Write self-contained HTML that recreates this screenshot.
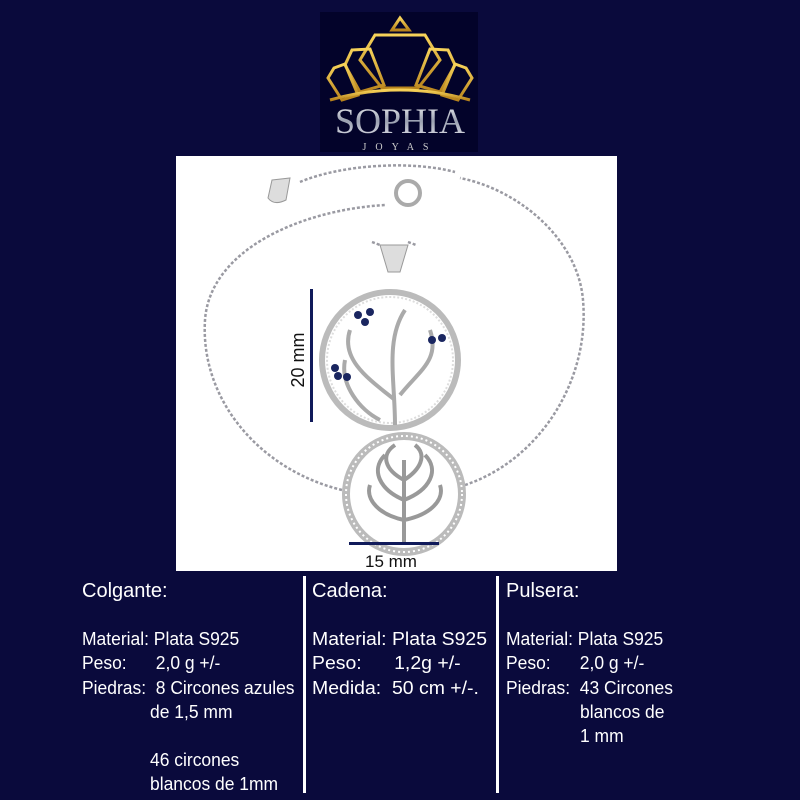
<!DOCTYPE html>
<html><head><meta charset="utf-8"><style>
body{margin:0;width:800px;height:800px;background:#0a0a3c;position:relative;overflow:hidden;font-family:"Liberation Sans",sans-serif;color:#fff}
.t{position:absolute;font-size:18px;white-space:nowrap;transform-origin:0 0;transform:scaleX(0.97)}
.h{font-size:20px;transform:scaleX(1.0)}
.c{transform:scaleX(1.08)}
.v{position:absolute;width:3px;background:#fff;top:576px;height:217px}
</style></head><body>
<svg width="800" height="800" style="position:absolute;left:0;top:0">
<defs><linearGradient id="g" x1="0" y1="0" x2="0" y2="1"><stop offset="0" stop-color="#f7d35a"/><stop offset="1" stop-color="#b8831c"/></linearGradient>
<linearGradient id="s" x1="0" y1="0" x2="0" y2="1"><stop offset="0" stop-color="#ffffff"/><stop offset="0.5" stop-color="#9aa0b0"/><stop offset="1" stop-color="#e8e8f0"/></linearGradient></defs>
<rect x="320" y="12" width="158" height="140" fill="#03032a"/>
<g fill="none" stroke="url(#g)" stroke-width="3">
<path d="M392 30 L400 18 L409 30 Z"/>
<path d="M375 35 L425 35 L440 60 L418 88 L382 88 L360 60 Z"/>
<path d="M352 50 L370 49 L384 85 L360 92 L345 65 Z"/>
<path d="M448 50 L430 49 L416 85 L440 92 L455 65 Z"/>
<path d="M334 68 L345 64 L358 95 L342 100 L328 78 Z"/>
<path d="M466 68 L455 64 L442 95 L458 100 L472 78 Z"/>
<path d="M330 100 Q400 80 470 100"/>
</g>
<text x="400" y="133" text-anchor="middle" font-family="Liberation Serif" font-size="36" fill="url(#s)">SOPHIA</text>
<text x="400" y="150" text-anchor="middle" font-family="Liberation Serif" font-size="10" letter-spacing="9" fill="#ccc">JOYAS</text>
<rect x="176" y="156" width="441" height="415" fill="#fff"/>
<g fill="none" stroke="#9a9aa2" stroke-width="2.5" stroke-dasharray="3 2">
<path d="M342 490 C260 470 200 400 205 320 C210 250 300 210 385 205"/>
<path d="M465 485 C540 460 590 380 583 300 C578 240 520 190 460 178"/>
<path d="M300 182 C340 165 410 160 455 172"/>
<path d="M372 242 L380 245 M408 242 L416 245"/>
</g>
<circle cx="408" cy="193" r="12" fill="none" stroke="#aaa" stroke-width="4"/>
<path d="M272 180 L290 178 L286 200 Q274 206 268 198 Z" fill="#ddd" stroke="#999"/>
<path d="M380 245 L408 245 L400 272 L388 272 Z" fill="#ddd" stroke="#999"/>
<circle cx="390" cy="360" r="68" fill="none" stroke="#bbb" stroke-width="6"/>
<circle cx="390" cy="360" r="63" fill="none" stroke="#ddd" stroke-width="2" stroke-dasharray="2 2"/>
<path d="M395 425 C395 380 385 340 405 310 M395 400 C370 380 340 360 350 330 M400 395 C420 370 440 360 430 330 M380 420 C360 410 340 385 345 360" fill="none" stroke="#aaa" stroke-width="4"/>
<g fill="#1a2660"><circle cx="358" cy="315" r="4"/><circle cx="370" cy="312" r="4"/><circle cx="365" cy="322" r="4"/><circle cx="432" cy="340" r="4"/><circle cx="442" cy="338" r="4"/><circle cx="335" cy="368" r="4"/><circle cx="338" cy="376" r="4"/><circle cx="347" cy="377" r="4"/></g>
<circle cx="404" cy="494" r="58" fill="none" stroke="#bbb" stroke-width="8"/>
<circle cx="404" cy="494" r="58" fill="none" stroke="#fff" stroke-width="2" stroke-dasharray="2 3"/>
<path d="M404 545 L404 460 M404 500 C380 490 370 470 385 455 M404 500 C430 490 440 470 425 455 M404 480 C385 470 380 455 395 445 M404 480 C420 470 428 455 415 445 M404 520 C380 515 365 500 370 485 M404 520 C430 515 445 500 440 485" fill="none" stroke="#999" stroke-width="4"/>
<rect x="310" y="289" width="3" height="133" fill="#101a5a"/>
<rect x="349" y="542" width="90" height="3" fill="#101a5a"/>
<text x="391" y="567" text-anchor="middle" font-size="17" fill="#111">15 mm</text>
<text transform="translate(304,360) rotate(-90)" text-anchor="middle" font-size="18" fill="#111">20 mm</text>
</svg>
<div class="v" style="left:303px"></div><div class="v" style="left:496px"></div>
<div class="t h" style="left:82px;top:580px">Colgante:</div>
<div class="t h" style="left:312px;top:580px">Cadena:</div>
<div class="t h" style="left:506px;top:580px">Pulsera:</div>
<div class="t" style="left:82px;top:629px">Material: Plata S925</div>
<div class="t" style="left:82px;top:653px">Peso:&nbsp;&nbsp;&nbsp;&nbsp;&nbsp; 2,0 g +/-</div>
<div class="t" style="left:82px;top:678px">Piedras:&nbsp; 8 Circones azules</div>
<div class="t" style="left:150px;top:702px">de 1,5 mm</div>
<div class="t" style="left:150px;top:750px">46 circones</div>
<div class="t" style="left:150px;top:774px">blancos de 1mm</div>
<div class="t c" style="left:312px;top:629px">Material: Plata S925</div>
<div class="t c" style="left:312px;top:653px">Peso:&nbsp;&nbsp;&nbsp;&nbsp;&nbsp; 1,2g +/-</div>
<div class="t c" style="left:312px;top:678px">Medida:&nbsp; 50 cm +/-.</div>
<div class="t" style="left:506px;top:629px">Material: Plata S925</div>
<div class="t" style="left:506px;top:653px">Peso:&nbsp;&nbsp;&nbsp;&nbsp;&nbsp; 2,0 g +/-</div>
<div class="t" style="left:506px;top:678px">Piedras:&nbsp; 43 Circones</div>
<div class="t" style="left:580px;top:702px">blancos de</div>
<div class="t" style="left:580px;top:726px">1 mm</div>
</body></html>
